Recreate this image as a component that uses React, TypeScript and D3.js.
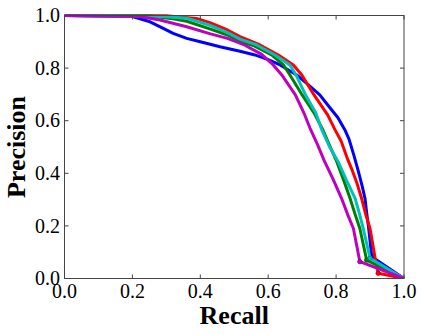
import React from "react";
import * as d3 from "d3";

// precision-recall curves, [recall, precision]
const blue: [number, number][] = [
  [0, 1], [0.2, 0.996], [0.252, 0.976], [0.291, 0.951], [0.32, 0.932], [0.36, 0.913],
  [0.4, 0.9], [0.458, 0.881], [0.517, 0.864], [0.561, 0.85], [0.6, 0.832],
  [0.635, 0.812], [0.684, 0.774], [0.715, 0.74], [0.752, 0.698], [0.78, 0.652],
  [0.805, 0.612], [0.826, 0.565], [0.838, 0.53], [0.852, 0.47], [0.865, 0.41],
  [0.877, 0.35], [0.885, 0.305], [0.891, 0.24], [0.896, 0.19], [0.905, 0.083], [1.0, 0.0],
];
const red: [number, number][] = [
  [0, 1], [0.3, 0.999], [0.389, 0.989], [0.43, 0.972], [0.48, 0.945], [0.517, 0.92],
  [0.576, 0.888], [0.63, 0.85], [0.674, 0.812], [0.699, 0.774], [0.735, 0.698],
  [0.775, 0.622], [0.797, 0.565], [0.815, 0.522], [0.835, 0.45], [0.848, 0.41],
  [0.862, 0.36], [0.875, 0.305], [0.888, 0.24], [0.9, 0.19], [0.915, 0.077],
  [0.924, 0.02], [1.0, 0.0],
];
const green: [number, number][] = [
  [0, 1], [0.25, 0.999], [0.311, 0.989], [0.36, 0.978], [0.43, 0.948], [0.48, 0.926],
  [0.517, 0.902], [0.556, 0.886], [0.61, 0.85], [0.645, 0.812], [0.664, 0.774],
  [0.7, 0.698], [0.735, 0.63], [0.761, 0.565], [0.781, 0.505], [0.802, 0.444],
  [0.822, 0.375], [0.841, 0.305], [0.857, 0.24], [0.87, 0.19], [0.89, 0.07], [1.0, 0.0],
];
const cyan: [number, number][] = [
  [0, 1], [0.29, 0.996], [0.36, 0.99], [0.43, 0.962], [0.48, 0.935], [0.517, 0.91],
  [0.566, 0.888], [0.62, 0.85], [0.664, 0.812], [0.682, 0.774], [0.71, 0.698],
  [0.74, 0.63], [0.758, 0.565], [0.781, 0.5], [0.806, 0.444], [0.83, 0.375],
  [0.856, 0.305], [0.868, 0.25], [0.88, 0.19], [0.9, 0.077], [1.0, 0.0],
];
const magenta: [number, number][] = [
  [0, 1], [0.222, 0.996], [0.281, 0.983], [0.36, 0.957], [0.43, 0.93], [0.48, 0.913],
  [0.53, 0.888], [0.58, 0.853], [0.615, 0.812], [0.64, 0.774], [0.68, 0.698],
  [0.705, 0.63], [0.723, 0.572], [0.745, 0.51], [0.766, 0.445], [0.792, 0.375],
  [0.816, 0.305], [0.835, 0.24], [0.851, 0.19], [0.87, 0.064], [1.0, 0.0],
];

const series = [
  { name: "blue", color: "#0000ff", data: blue },
  { name: "red", color: "#ff0000", data: red },
  { name: "green", color: "#008000", data: green },
  { name: "cyan", color: "#00bfbf", data: cyan },
  { name: "magenta", color: "#bf00bf", data: magenta },
];

const ticks = [0, 0.2, 0.4, 0.6, 0.8, 1.0];

const left = 64.5;
const right = 404;
const top = 15.5;
const bottom = 278.5;

export default function App() {
  const x = d3.scaleLinear().domain([0, 1]).range([left, right]);
  const y = d3.scaleLinear().domain([0, 1]).range([bottom, top]);
  const line = d3
    .line<[number, number]>()
    .x((d) => x(d[0]))
    .y((d) => y(d[1]));

  const font = "'Liberation Serif', 'Times New Roman', Times, serif";

  return (
    <svg
      width={423}
      height={335}
      style={{ position: "absolute", left: 0, top: 0, background: "#fff" }}
    >
      <defs>
        <clipPath id="plot">
          <rect x={left} y={top - 2} width={right - left + 2} height={bottom - top + 2} />
        </clipPath>
      </defs>
      <g clipPath="url(#plot)">
        {series.map((s) => {
          // knee point: the last point before the final segment to (1, 0)
          const knee = s.data[s.data.length - 2];
          return (
            <g key={s.name}>
              <path
                d={line(s.data) || ""}
                fill="none"
                stroke={s.color}
                strokeWidth={3}
                strokeLinejoin="round"
              />
              <circle
                cx={x(knee[0])}
                cy={y(knee[1])}
                r={2.2}
                fill={s.color}
                stroke={d3.color(s.color)!.darker(1.2).toString()}
                strokeWidth={0.8}
              />
            </g>
          );
        })}
      </g>
      <rect
        x={left}
        y={top}
        width={right - left}
        height={bottom - top}
        fill="none"
        stroke="#444"
        strokeWidth={1}
      />
      {ticks.map((t) => (
        <g key={"x" + t}>
          <line x1={x(t)} x2={x(t)} y1={bottom} y2={bottom - 4} stroke="#444" />
          <line x1={x(t)} x2={x(t)} y1={top} y2={top + 4} stroke="#444" />
          <text
            x={x(t)}
            y={298}
            textAnchor="middle"
            fontFamily={font}
            fontSize={20}
            fill="#000"
          >
            {t.toFixed(1)}
          </text>
        </g>
      ))}
      {ticks.map((t) => (
        <g key={"y" + t}>
          <line x1={left} x2={left + 4} y1={y(t)} y2={y(t)} stroke="#444" />
          <line x1={right} x2={right - 4} y1={y(t)} y2={y(t)} stroke="#444" />
          <text
            x={60}
            y={y(t)}
            dy="0.33em"
            textAnchor="end"
            fontFamily={font}
            fontSize={20}
            fill="#000"
          >
            {t.toFixed(1)}
          </text>
        </g>
      ))}
      <text
        x={(left + right) / 2}
        y={324}
        textAnchor="middle"
        fontFamily={font}
        fontSize={26}
        fontWeight="bold"
      >
        Recall
      </text>
      <text
        transform={`translate(25,${(top + bottom) / 2}) rotate(-90)`}
        textAnchor="middle"
        fontFamily={font}
        fontSize={26}
        fontWeight="bold"
      >
        Precision
      </text>
    </svg>
  );
}
